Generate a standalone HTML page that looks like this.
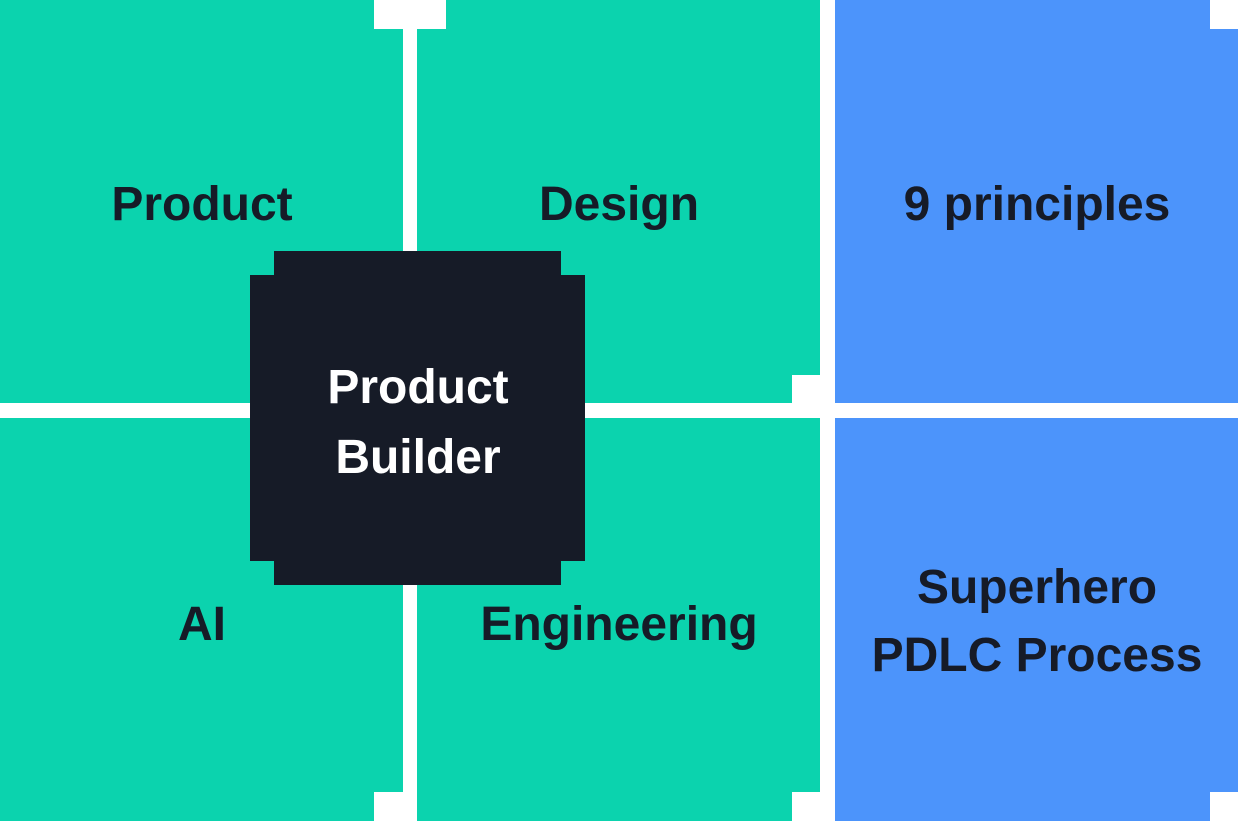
<!DOCTYPE html>
<html><head><meta charset="utf-8"><style>
html,body{margin:0;padding:0;background:#fff;}
svg{display:block}
text{font-family:"Liberation Sans",sans-serif;font-weight:bold;font-size:48px;text-anchor:middle;fill:#161B27}
</style></head><body>
<svg width="1239" height="822" viewBox="0 0 1239 822" xmlns="http://www.w3.org/2000/svg">
<!-- top-left -->
<polygon fill="#0BD3AE" points="0,0 374,0 374,29 403,29 403,403 0,403"/>
<!-- top-middle -->
<polygon fill="#0BD3AE" points="446,0 820,0 820,375 792,375 792,403 417,403 417,29 446,29"/>
<!-- bottom-left -->
<polygon fill="#0BD3AE" points="0,418 403,418 403,792 374,792 374,821 0,821"/>
<!-- bottom-middle -->
<polygon fill="#0BD3AE" points="417,418 820,418 820,792 792,792 792,821 417,821"/>
<!-- blue -->
<polygon fill="#4C94FB" points="835,0 1210,0 1210,29 1238,29 1238,403 835,403"/>
<polygon fill="#4C94FB" points="835,418 1238,418 1238,792 1210,792 1210,821 835,821"/>
<!-- dark center -->
<polygon fill="#161B27" points="274,251 561,251 561,275 585,275 585,561 561,561 561,585 274,585 274,561 250,561 250,275 274,275"/>
<text x="202" y="220">Product</text>
<text x="619" y="220">Design</text>
<text x="1037" y="220">9 principles</text>
<text x="202" y="640">AI</text>
<text x="619" y="640">Engineering</text>
<text x="1037" y="603">Superhero</text>
<text x="1037" y="671">PDLC Process</text>
<text x="418" y="403" style="fill:#fff">Product</text>
<text x="418" y="473" style="fill:#fff">Builder</text>
</svg>
</body></html>
